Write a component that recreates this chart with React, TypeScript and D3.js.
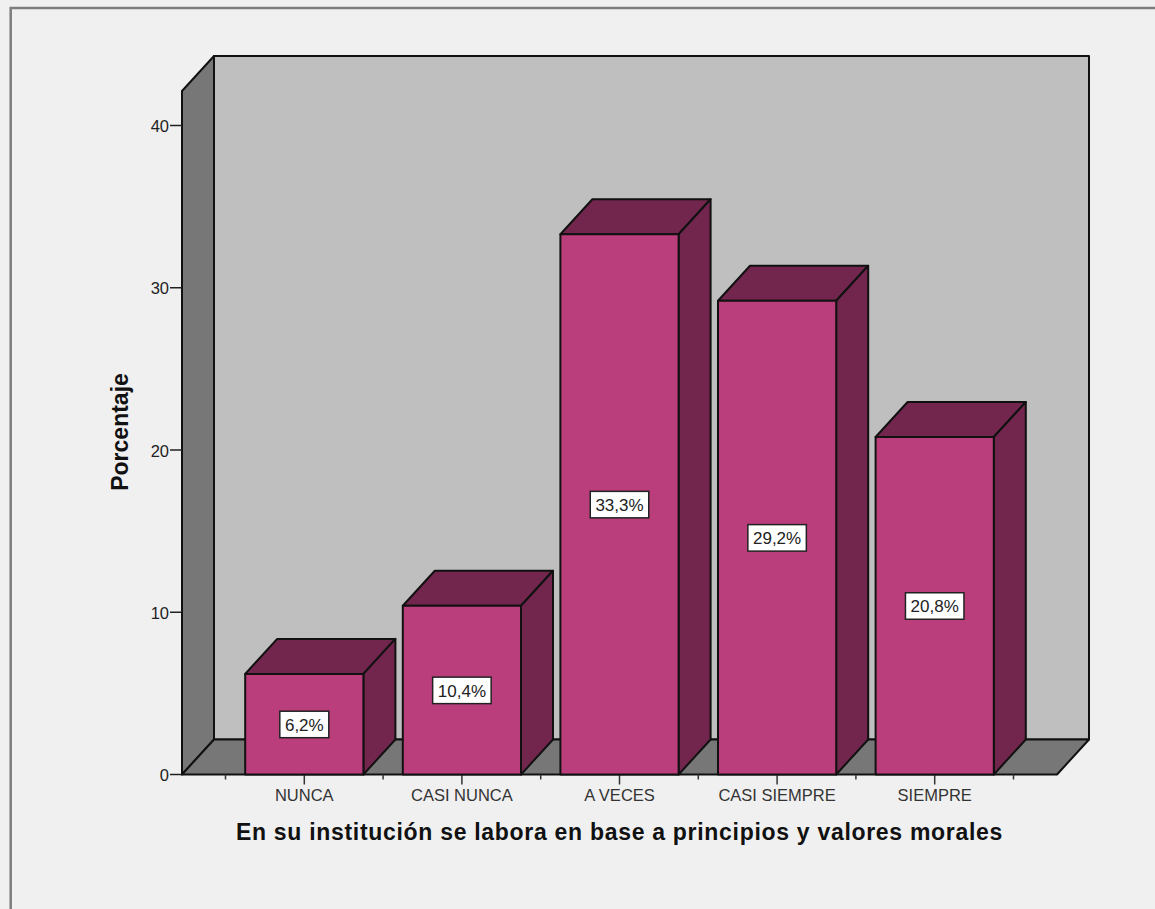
import React from "react";
import * as d3 from "d3";

const categories = ["NUNCA", "CASI NUNCA", "A VECES", "CASI SIEMPRE", "SIEMPRE"];
const percentages = [6.2, 10.4, 33.3, 29.2, 20.8];
const valueLabels = ["6,2%", "10,4%", "33,3%", "29,2%", "20,8%"];
const yTicks = [0, 10, 20, 30, 40];
const xTitle = "En su institución se labora en base a principios y valores morales";
const yTitle = "Porcentaje";

const WIDTH = 1155;
const HEIGHT = 909;
const DEPTH_X = 32;
const DEPTH_Y = 35;
const FONT = "'Liberation Sans', Arial, sans-serif";

const y = d3.scaleLinear().domain([0, 40]).range([774.5, 125.5]);
const x = d3.scaleBand<string>().domain(categories).range([225.5, 1013.5]).paddingInner(0.25).paddingOuter(0.125);

const LEFT = 182;
const RIGHT = 1057;
const TOP = 91;

const poly = (pts: [number, number][]) => (d3.line()(pts) ?? "") + "Z";

const STROKE = { stroke: "#111", strokeWidth: 2, strokeLinejoin: "round" as const };

export default function App() {
  const base = y(0);
  const band = x.bandwidth();
  return (
    <svg
      width={WIDTH}
      height={HEIGHT}
      viewBox={`0 0 ${WIDTH} ${HEIGHT}`}
      style={{ position: "absolute", left: 0, top: 0, display: "block" }}
    >
      <rect width={WIDTH} height={HEIGHT} fill="#f0f0f0" />
      {/* outer frame, open on the right and bottom */}
      <path d={`M10.7 ${HEIGHT}V8H${WIDTH}`} fill="none" stroke="#7d7d7d" strokeWidth={2.5} />

      {/* 3D plot box: back wall, side wall, floor */}
      <path
        d={poly([[LEFT + DEPTH_X, TOP - DEPTH_Y], [RIGHT + DEPTH_X, TOP - DEPTH_Y], [RIGHT + DEPTH_X, base - DEPTH_Y], [LEFT + DEPTH_X, base - DEPTH_Y]])}
        fill="#bfbfbf"
        {...STROKE}
      />
      <path
        d={poly([[LEFT, TOP], [LEFT + DEPTH_X, TOP - DEPTH_Y], [LEFT + DEPTH_X, base - DEPTH_Y], [LEFT, base]])}
        fill="#777777"
        {...STROKE}
      />
      <path
        d={poly([[LEFT, base], [LEFT + DEPTH_X, base - DEPTH_Y], [RIGHT + DEPTH_X, base - DEPTH_Y], [RIGHT, base]])}
        fill="#777777"
        {...STROKE}
      />

      {/* y axis */}
      {yTicks.map((t) => (
        <g key={t}>
          <line x1={LEFT - 12} x2={LEFT} y1={y(t)} y2={y(t)} stroke="#222" strokeWidth={1.5} />
          <text x={LEFT - 13} y={y(t) + 6.5} textAnchor="end" fontFamily={FONT} fontSize={16.5} fill="#222">
            {t}
          </text>
        </g>
      ))}
      <text
        transform={`translate(128 432) rotate(-90)`}
        textAnchor="middle"
        fontFamily={FONT}
        fontSize={23}
        fontWeight="bold"
        fill="#111"
      >
        {yTitle}
      </text>

      {/* x axis separators and category ticks */}
      {categories.map((c, i) => {
        const bx = x(c)!;
        const step = x.step();
        const sep = bx - (step - band) / 2;
        return (
          <g key={c}>
            <line x1={sep} x2={sep} y1={base} y2={base + 5} stroke="#333" strokeWidth={1.5} />
            {i === categories.length - 1 && (
              <line x1={sep + step} x2={sep + step} y1={base} y2={base + 5} stroke="#333" strokeWidth={1.5} />
            )}
            <line x1={bx + band / 2} x2={bx + band / 2} y1={base} y2={base + 10} stroke="#333" strokeWidth={1.5} />
          </g>
        );
      })}

      {/* bars */}
      {categories.map((c, i) => {
        const x0 = x(c)!;
        const x1 = x0 + band;
        const top = y(percentages[i]);
        return (
          <g key={c}>
            <path
              d={poly([[x0, top], [x0 + DEPTH_X, top - DEPTH_Y], [x1 + DEPTH_X, top - DEPTH_Y], [x1, top]])}
              fill="#72264d"
              {...STROKE}
            />
            <path
              d={poly([[x1, top], [x1 + DEPTH_X, top - DEPTH_Y], [x1 + DEPTH_X, base - DEPTH_Y], [x1, base]])}
              fill="#72264d"
              {...STROKE}
            />
            <rect x={x0} y={top} width={band} height={base - top} fill="#bb3e7c" {...STROKE} />
          </g>
        );
      })}

      {/* value labels at mid-height of each bar */}
      {categories.map((c, i) => {
        const cx = x(c)! + band / 2;
        const cy = (y(percentages[i]) + base) / 2;
        const w = valueLabels[i].length === 4 ? 49 : 58.5;
        return (
          <g key={c}>
            <rect x={cx - w / 2} y={cy - 13} width={w} height={26.5} fill="#fff" stroke="#222" strokeWidth={1.5} />
            <text x={cx} y={cy + 6.5} textAnchor="middle" fontFamily={FONT} fontSize={17} fill="#222">
              {valueLabels[i]}
            </text>
          </g>
        );
      })}

      {/* category labels */}
      {categories.map((c) => (
        <text
          key={c}
          x={x(c)! + band / 2}
          y={801}
          textAnchor="middle"
          fontFamily={FONT}
          fontSize={16.5}
          fill="#333"
        >
          {c}
        </text>
      ))}

      <text
        x={619.5}
        y={840}
        textAnchor="middle"
        fontFamily={FONT}
        fontSize={23}
        fontWeight="bold"
        letterSpacing={0.7}
        fill="#111"
      >
        {xTitle}
      </text>
    </svg>
  );
}
